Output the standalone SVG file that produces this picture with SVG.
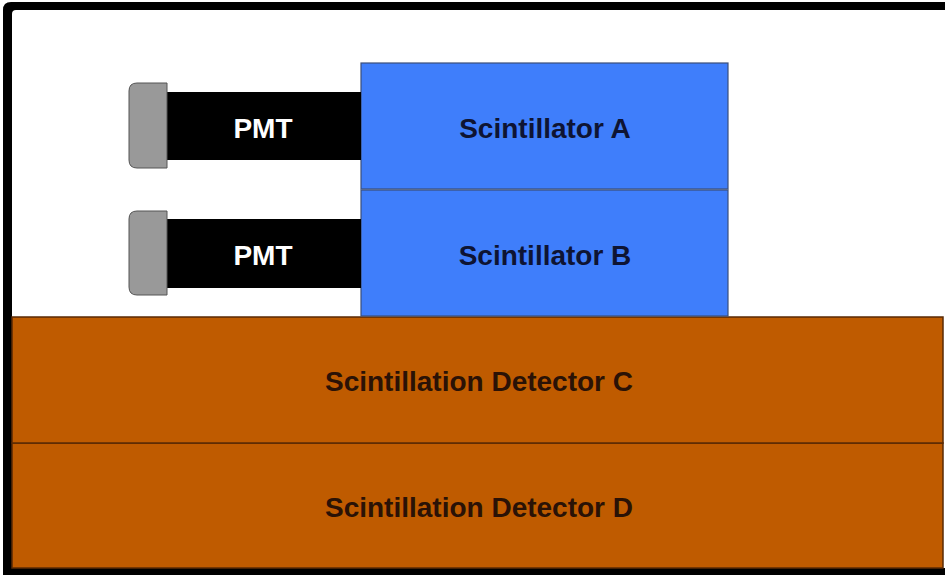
<svg xmlns="http://www.w3.org/2000/svg" width="945" height="575" viewBox="0 0 945 575">
  <style>
    .lbl { font-family: "Liberation Sans", Arial, sans-serif; font-weight: bold; font-size: 28px; text-anchor: middle; dominant-baseline: central; }
    .dark-on-blue { fill: #0e1433; }
    .dark-on-orange { fill: #2a1206; }
    .white { fill: #ffffff; }
    .scint { fill: #3f7efb; stroke: #3b4f7a; stroke-width: 1.2; }
    .det { fill: #bf5b00; stroke: #5a2a05; stroke-width: 1.5; }
    .cap { fill: #999999; stroke: #555555; stroke-width: 1; }
    .tube { fill: #000000; }
  </style>

  <!-- outer frame -->
  <rect x="0" y="0" width="945" height="575" fill="#ffffff"/>
  <path d="M945,2 H11 Q3,2 3,10 V575 H945" fill="#000000"/>
  <path d="M945,10 H16 Q12,10 12,14 V568 H945 Z" fill="#ffffff"/>

  <!-- lower detectors -->
  <g id="detector-d">
    <rect class="det" x="12" y="443" width="931" height="125"/>
    <text class="lbl dark-on-orange" x="479" y="507">Scintillation Detector D</text>
  </g>
  <g id="detector-c">
    <rect class="det" x="12" y="317" width="931" height="126"/>
    <text class="lbl dark-on-orange" x="479" y="381">Scintillation Detector C</text>
  </g>

  <!-- scintillator paddles -->
  <g id="scintillator-a">
    <rect class="scint" x="361" y="63" width="367" height="126"/>
    <text class="lbl dark-on-blue" x="545" y="128">Scintillator A</text>
  </g>
  <g id="scintillator-b">
    <rect class="scint" x="361" y="190" width="367" height="126"/>
    <text class="lbl dark-on-blue" x="545" y="255">Scintillator B</text>
  </g>

  <!-- photomultiplier tubes -->
  <g id="pmt-a">
    <rect class="tube" x="166" y="92" width="195" height="68"/>
    <path class="cap" d="M167,83 V168 H137 Q129,168 129,160 V91 Q129,83 137,83 Z"/>
    <text class="lbl white" x="263" y="128">PMT</text>
  </g>
  <g id="pmt-b">
    <rect class="tube" x="166" y="219" width="195" height="69"/>
    <path class="cap" d="M167,211 V295 H137 Q129,295 129,287 V219 Q129,211 137,211 Z"/>
    <text class="lbl white" x="263" y="255">PMT</text>
  </g>

  <g id="connectors"/>
</svg>
